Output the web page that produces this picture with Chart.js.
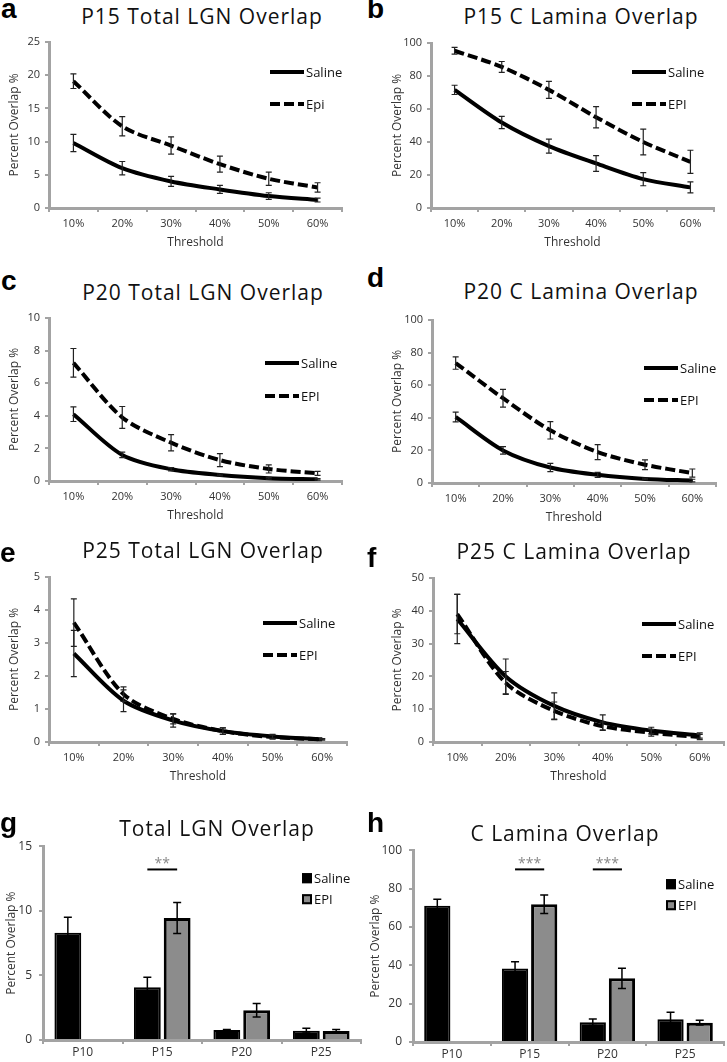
<!DOCTYPE html>
<html>
<head>
<meta charset="utf-8">
<script src="https://cdn.jsdelivr.net/npm/chart.js@4.4.1/dist/chart.umd.min.js"></script>
<style>
  body { margin: 0; background: #fff; }
  #fig { position: relative; width: 727px; height: 1062px; overflow: hidden; font-family: 'Open Sans', sans-serif; }
  #fig canvas { position: absolute; }
  .letter { position: absolute; font: bold 28px 'Liberation Sans', Arial, sans-serif; line-height: 1; color: #000; z-index: 2; }
  .title { position: absolute; font-size: 21px; line-height: 1; letter-spacing: 1px; color: #111; white-space: nowrap; transform: translateX(-50%); z-index: 2; }
</style>
</head>
<body>
<div id="fig"></div>
<script>
// categories
const thresholds = ['10%', '20%', '30%', '40%', '50%', '60%'];
const ages = ['P10', 'P15', 'P20', 'P25'];

// a - P15 total LGN overlap
const p15LgnSaline = [9.8, 6.0, 4.0, 2.8, 1.8, 1.2];
const p15LgnSalineErr = [1.3, 1.0, 0.75, 0.6, 0.5, 0.3];
const p15LgnEpi = [19.1, 12.3, 9.4, 6.6, 4.4, 3.1];
const p15LgnEpiErr = [1.1, 1.45, 1.3, 1.2, 1.0, 0.7];

// b - P15 C lamina overlap
const p15LamSaline = [71.6, 51.8, 37.5, 27, 17.5, 12.5];
const p15LamSalineErr = [2.8, 3.7, 4.3, 4.8, 4.0, 3.3];
const p15LamEpi = [95.3, 85.5, 71.6, 55, 40, 28];
const p15LamEpiErr = [2.0, 3.3, 5.1, 6.4, 7.8, 7.0];

// c - P20 total LGN overlap
const p20LgnSaline = [4.1, 1.6, 0.72, 0.37, 0.17, 0.1];
const p20LgnSalineErr = [0.45, 0.17, 0.1, 0.06, 0.05, 0.05];
const p20LgnEpi = [7.25, 3.9, 2.35, 1.28, 0.74, 0.47];
const p20LgnEpiErr = [0.88, 0.67, 0.5, 0.4, 0.25, 0.12];

// d - P20 C lamina overlap
const p20LamSaline = [40.5, 20, 9.5, 5, 2.5, 1.5];
const p20LamSalineErr = [3.0, 2.3, 2.5, 1.5, 0.5, 0.8];
const p20LamEpi = [73.6, 52, 32.3, 19, 11.2, 6.1];
const p20LamEpiErr = [3.8, 5.4, 5.3, 4.6, 3.0, 2.5];

// e - P25 total LGN overlap
const p25LgnSaline = [2.68, 1.25, 0.65, 0.33, 0.17, 0.08];
const p25LgnSalineErr = [0.7, 0.33, 0.2, 0.1, 0.06, 0.02];
const p25LgnEpi = [3.62, 1.45, 0.7, 0.33, 0.15, 0.08];
const p25LgnEpiErr = [0.72, 0.22, 0.15, 0.1, 0.06, 0.02];

// f - P25 C lamina overlap
const p25LamSaline = [37.5, 20, 11, 6, 3.5, 2];
const p25LamSalineErr = [7.5, 5.3, 4.0, 2.3, 1.0, 0.8];
const p25LamEpi = [39, 18, 9.5, 4.8, 2.8, 1.5];
const p25LamEpiErr = [6.0, 3.5, 2.7, 1.3, 1.0, 0.8];

// g - total LGN overlap by age
const lgnSaline = [8.3, 4.08, 0.77, 0.72];
const lgnSalineErr = [1.2, 0.77, 0.05, 0.18];
const lgnEpi = [null, 9.44, 2.3, 0.7];
const lgnEpiErr = [null, 1.2, 0.52, 0.12];
const lgnSig = ['', '**', '', ''];
const lgnSigLevel = 13.2;

// h - C lamina overlap by age
const lamSaline = [71, 38.3, 10.3, 11.9];
const lamSalineErr = [3.4, 3.5, 1.7, 3.6];
const lamEpi = [null, 71.8, 33.2, 10.1];
const lamEpiErr = [null, 4.8, 5.3, 1.2];
const lamSig = ['', '***', '***', ''];
const lamSigLevel = 90;

const AXIS = '#a3a3a3';
const TEXT = '#333';
Chart.defaults.font.family = "'Open Sans', sans-serif";
Chart.defaults.color = TEXT;
Chart.defaults.animation = false;

// error bars from the dataset's "errors" list
const errorBars = {
  id: 'errorBars',
  afterDatasetsDraw(chart, args, opts) {
    const ctx = chart.ctx;
    const y = chart.scales.y;
    ctx.save();
    ctx.strokeStyle = opts.color || '#222';
    ctx.lineWidth = opts.width || 1.2;
    chart.data.datasets.forEach((ds, i) => {
      if (!ds.errors) return;
      chart.getDatasetMeta(i).data.forEach((el, j) => {
        const v = ds.data[j], e = ds.errors[j];
        if (v == null || e == null) return;
        const top = y.getPixelForValue(v + e);
        const bot = y.getPixelForValue(Math.max(v - e, 0));
        const cap = opts.cap || 3;
        ctx.beginPath();
        ctx.moveTo(el.x, top); ctx.lineTo(el.x, bot);
        ctx.moveTo(el.x - cap, top); ctx.lineTo(el.x + cap, top);
        ctx.moveTo(el.x - cap, bot); ctx.lineTo(el.x + cap, bot);
        ctx.stroke();
      });
    });
    ctx.restore();
  }
};

// legend drawn inside the plot area
const insideLegend = {
  id: 'insideLegend',
  afterDraw(chart, args, opts) {
    const ctx = chart.ctx;
    const area = chart.chartArea;
    ctx.save();
    ctx.font = '13px "Open Sans", sans-serif';
    ctx.textBaseline = 'middle';
    chart.data.datasets.forEach((ds, i) => {
      const x = area.left + opts.x;
      const y = area.top + opts.y[i];
      if (opts.kind === 'box') {
        ctx.fillStyle = ds.backgroundColor;
        ctx.strokeStyle = '#000';
        ctx.lineWidth = 2;
        ctx.fillRect(x, y - 5, 10, 10);
        ctx.strokeRect(x + 1, y - 4, 8, 8);
        ctx.fillStyle = '#111';
        ctx.fillText(ds.label, x + 12, y + 1);
      } else {
        ctx.strokeStyle = '#000';
        ctx.lineWidth = 4;
        ctx.setLineDash(ds.borderDash || []);
        ctx.beginPath();
        ctx.moveTo(x, y); ctx.lineTo(x + 34, y);
        ctx.stroke();
        ctx.setLineDash([]);
        ctx.fillStyle = '#111';
        ctx.fillText(ds.label, x + 36, y + 1);
      }
    });
    ctx.restore();
  }
};

// significance bars over the bar groups
const sigBars = {
  id: 'sigBars',
  afterDatasetsDraw(chart, args, opts) {
    if (!opts.marks) return;
    const ctx = chart.ctx;
    const y = chart.scales.y.getPixelForValue(opts.level);
    const m0 = chart.getDatasetMeta(0).data, m1 = chart.getDatasetMeta(1).data;
    ctx.save();
    opts.marks.forEach((m, j) => {
      if (!m) return;
      const x0 = m0[j].x, x1 = m1[j].x;
      ctx.strokeStyle = '#000';
      ctx.lineWidth = 2;
      ctx.beginPath();
      ctx.moveTo(x0, y); ctx.lineTo(x1, y);
      ctx.stroke();
      ctx.fillStyle = '#888';
      ctx.font = '14px "Open Sans", sans-serif';
      ctx.textAlign = 'center';
      ctx.textBaseline = 'alphabetic';
      ctx.fillText(m, (x0 + x1) / 2, y - 1);
    });
    ctx.restore();
  }
};

const fig = document.getElementById('fig');

function addText(cls, text, left, top) {
  const d = document.createElement('div');
  d.className = cls;
  d.textContent = text;
  d.style.left = left + 'px';
  d.style.top = top + 'px';
  fig.appendChild(d);
}

function makeCanvas(box) {
  const c = document.createElement('canvas');
  c.width = box.w; c.height = box.h;
  c.style.left = box.left + 'px';
  c.style.top = box.top + 'px';
  fig.appendChild(c);
  return c;
}

function axisOpts(isX) {
  return {
    grid: { drawOnChartArea: false, tickLength: 4, color: AXIS, lineWidth: 2, offset: isX },
    border: { color: AXIS, width: 3 }
  };
}

function drawPanel(p) {
  addText('letter', p.letter, p.letterPos[0], p.letterPos[1]);
  addText('title', p.title, p.titlePos[0], p.titlePos[1]);
  const a = p.area;
  const box = { left: p.left, top: a.t - 12, w: p.width, h: a.b + p.xh - (a.t - 12) };
  const canvas = makeCanvas(box);
  const isBar = p.type === 'bar';
  const datasets = isBar ? [
    { label: 'Saline', data: p.saline, errors: p.salineErr, backgroundColor: '#000', borderColor: '#000', borderWidth: 2, barPercentage: 0.9, categoryPercentage: 0.75 },
    { label: 'EPI', data: p.epi, errors: p.epiErr, backgroundColor: '#8c8c8c', borderColor: '#000', borderWidth: 3, barPercentage: 0.9, categoryPercentage: 0.75 }
  ] : [
    { label: 'Saline', data: p.saline, errors: p.salineErr, borderColor: '#000', borderWidth: 4, pointRadius: 0, tension: 0.3, fill: false },
    { label: p.epiLabel, data: p.epi, errors: p.epiErr, borderColor: '#000', borderWidth: 4, borderDash: [10, 4], pointRadius: 0, tension: 0.3, fill: false }
  ];
  const xAxis = Object.assign(axisOpts(true), {
    offset: true,
    ticks: { font: { size: isBar ? 12 : 11 }, padding: isBar ? 1 : 5, color: TEXT },
    title: { display: !isBar, text: 'Threshold', font: { size: 12 }, color: TEXT, padding: 4 },
    afterFit: s => { s.height = p.xh; }
  });
  const yAxis = Object.assign(axisOpts(false), {
    min: 0, max: p.max,
    ticks: { stepSize: p.step, font: { size: isBar ? 12 : 11 }, padding: isBar ? 7 : 5, color: TEXT },
    title: { display: true, text: 'Percent Overlap %', font: { size: 12 }, color: TEXT, padding: 4 },
    afterFit: s => { s.width = a.l - p.left - p.padL; }
  });
  new Chart(canvas, {
    type: p.type,
    data: { labels: p.labels, datasets: datasets },
    options: {
      responsive: false,
      devicePixelRatio: 1,
      layout: { padding: { left: p.padL, top: 12, right: p.left + p.width - a.r, bottom: 0 }, autoPadding: false },
      plugins: {
        legend: { display: false },
        tooltip: { enabled: false },
        errorBars: isBar ? { color: '#000', width: 1.5, cap: 4 } : { color: '#222', width: 1.2, cap: 3 },
        insideLegend: { kind: isBar ? 'box' : 'line', x: p.legend[0], y: p.legend.slice(1) },
        sigBars: isBar ? { marks: p.sig, level: p.sigLevel } : {}
      },
      scales: { x: xAxis, y: yAxis }
    },
    plugins: [errorBars, insideLegend, sigBars]
  });
}

const panels = [
  { letter: 'a', title: 'P15 Total LGN Overlap', type: 'line', labels: thresholds, epiLabel: 'Epi',
    saline: p15LgnSaline, salineErr: p15LgnSalineErr, epi: p15LgnEpi, epiErr: p15LgnEpiErr, max: 25, step: 5,
    left: 0, width: 364, padL: 3, xh: 46, area: { l: 49, t: 42, r: 342, b: 208 },
    letterPos: [1, -5], titlePos: [202, 6], legend: [221, 30, 62] },
  { letter: 'b', title: 'P15 C Lamina Overlap', type: 'line', labels: thresholds, epiLabel: 'EPI',
    saline: p15LamSaline, salineErr: p15LamSalineErr, epi: p15LamEpi, epiErr: p15LamEpiErr, max: 100, step: 20,
    left: 364, width: 363, padL: 22, xh: 46, area: { l: 431, t: 43, r: 714, b: 208 },
    letterPos: [367, -5], titlePos: [581, 6], legend: [201, 29, 61] },
  { letter: 'c', title: 'P20 Total LGN Overlap', type: 'line', labels: thresholds, epiLabel: 'EPI',
    saline: p20LgnSaline, salineErr: p20LgnSalineErr, epi: p20LgnEpi, epiErr: p20LgnEpiErr, max: 10, step: 2,
    left: 0, width: 364, padL: 3, xh: 46, area: { l: 49, t: 318, r: 342, b: 481 },
    letterPos: [1, 267], titlePos: [203, 282], legend: [216, 45, 78] },
  { letter: 'd', title: 'P20 C Lamina Overlap', type: 'line', labels: thresholds, epiLabel: 'EPI',
    saline: p20LamSaline, salineErr: p20LamSalineErr, epi: p20LamEpi, epiErr: p20LamEpiErr, max: 100, step: 20,
    left: 364, width: 363, padL: 22, xh: 46, area: { l: 432, t: 320, r: 716, b: 483 },
    letterPos: [367, 264], titlePos: [581, 281], legend: [212, 48, 80] },
  { letter: 'e', title: 'P25 Total LGN Overlap', type: 'line', labels: thresholds, epiLabel: 'EPI',
    saline: p25LgnSaline, salineErr: p25LgnSalineErr, epi: p25LgnEpi, epiErr: p25LgnEpiErr, max: 5, step: 1,
    left: 0, width: 364, padL: 3, xh: 46, area: { l: 49, t: 577, r: 347, b: 742 },
    letterPos: [0, 539], titlePos: [203, 540], legend: [214, 46, 78] },
  { letter: 'f', title: 'P25 C Lamina Overlap', type: 'line', labels: thresholds, epiLabel: 'EPI',
    saline: p25LamSaline, salineErr: p25LamSalineErr, epi: p25LamEpi, epiErr: p25LamEpiErr, max: 50, step: 10,
    left: 364, width: 363, padL: 22, xh: 46, area: { l: 433, t: 578, r: 724, b: 742 },
    letterPos: [367, 544], titlePos: [574, 541], legend: [209, 46, 78] },
  { letter: 'g', title: 'Total LGN Overlap', type: 'bar', labels: ages,
    saline: lgnSaline, salineErr: lgnSalineErr, epi: lgnEpi, epiErr: lgnEpiErr, max: 15, step: 5,
    sig: lgnSig, sigLevel: lgnSigLevel,
    left: 0, width: 364, padL: 0, xh: 22, area: { l: 43, t: 844, r: 361, b: 1040 },
    letterPos: [0, 809], titlePos: [217, 818], legend: [259, 32, 53] },
  { letter: 'h', title: 'C Lamina Overlap', type: 'bar', labels: ages,
    saline: lamSaline, salineErr: lamSalineErr, epi: lamEpi, epiErr: lamEpiErr, max: 100, step: 20,
    sig: lamSig, sigLevel: lamSigLevel,
    left: 364, width: 363, padL: 0, xh: 20, area: { l: 413, t: 848, r: 724, b: 1042 },
    letterPos: [367, 809], titlePos: [565, 823], legend: [253, 34, 55] }
];

panels.forEach(drawPanel);
</script>
</body>
</html>
